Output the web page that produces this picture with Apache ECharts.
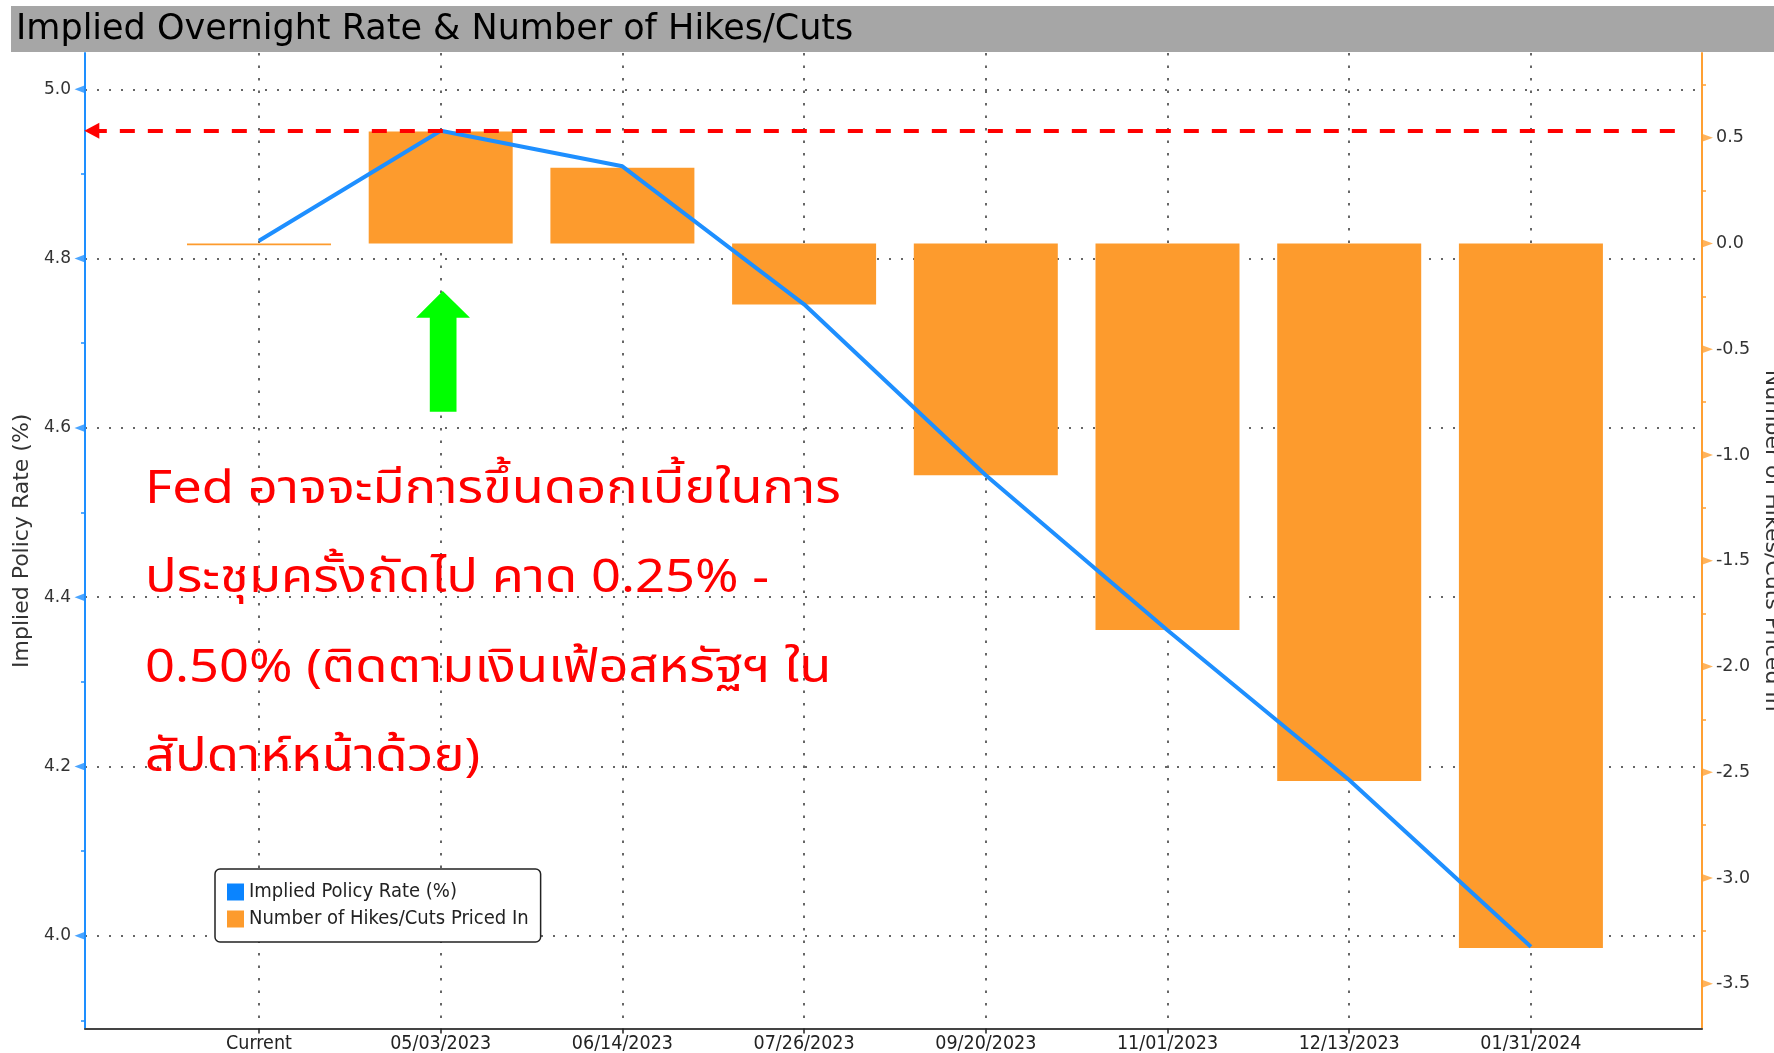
<!DOCTYPE html>
<html><head><meta charset="utf-8">
<script src="https://cdn.jsdelivr.net/npm/echarts@6/dist/echarts.min.js"></script>
<style>html,body{margin:0;padding:0;background:#fff}#c{width:1774px;height:1053px}</style>
</head><body><div id="c"></div>
<script>
// ---- data ----
const categories = ['Current','05/03/2023','06/14/2023','07/26/2023','09/20/2023','11/01/2023','12/13/2023','01/31/2024'];
const impliedRate = [4.821, 4.951, 4.909, 4.746, 4.544, 4.361, 4.184, 3.987];
const hikesCuts = [-0.008, 0.529, 0.358, -0.288, -1.096, -1.828, -2.541, -3.331];
const rateTicks = [4.0, 4.2, 4.4, 4.6, 4.8, 5.0];
const rateMinorTicks = [3.9, 4.1, 4.3, 4.5, 4.7, 4.9];
const hikeTicks = [0.5, 0, -0.5, -1.0, -1.5, -2.0, -2.5, -3.0, -3.5];
const hikeMinorTicks = [0.75, 0.25, -0.25, -0.75, -1.25, -1.75, -2.25, -2.75, -3.25];
const titleText = 'Implied Overnight Rate & Number of Hikes/Cuts';
const rateName = 'Implied Policy Rate (%)';
const hikeName = 'Number of Hikes/Cuts Priced In';
const noteLines = [
  'Fed อาจจะมีการขึ้นดอกเบี้ยในการ',
  'ประชุมครั้งถัดไป คาด 0.25% -',
  '0.50% (ติดตามเงินเฟ้อสหรัฐฯ ใน',
  'สัปดาห์หน้าด้วย)'
];

const catIdx = categories.map((c, i) => i);
const peakRate = Math.max(...impliedRate);
const RATE_MIN = 3.8904, RATE_MAX = 5.0429;
const HIKE_MIN = -3.7116, HIKE_MAX = 0.9007;
const X_MIN = -0.9576, X_MAX = 7.9416;

const BLUE = '#1E8FFF', ORANGE = '#FD9B2D', AX_ORANGE = '#FFA033';
const COND = "'DejaVu Sans Condensed','DejaVu Sans',sans-serif";
const SANS = "'DejaVu Sans',sans-serif";

const chart = echarts.init(document.getElementById('c'), null, {renderer: 'canvas'});
chart.setOption({
  backgroundColor: '#ffffff',
  animation: false,
  grid: {left: 85, right: 72, top: 53, bottom: 24.5, containLabel: false, outerBoundsMode: 'none'},
  legend: {
    data: [{name: rateName, icon: 'rect'}, {name: hikeName, icon: 'rect'}],
    orient: 'vertical', left: 215, top: 869,
    itemWidth: 17, itemHeight: 17, itemGap: 7,
    padding: [13, 12, 13, 12],
    borderColor: '#222', borderWidth: 1.5, borderRadius: 5, backgroundColor: '#fff',
    textStyle: {fontFamily: COND, fontSize: 20, color: '#222', lineHeight: 17},
    selectedMode: false
  },
  xAxis: {
    type: 'value', min: X_MIN, max: X_MAX,
    axisLine: {show: true, onZero: false, lineStyle: {color: '#444', width: 2}},
    axisTick: {show: true, customValues: catIdx, length: 5, lineStyle: {color: '#222', width: 1.5}},
    axisLabel: {customValues: catIdx, formatter: v => categories[Math.round(v)] || '',
      fontFamily: COND, fontSize: 19.5, color: '#222', margin: 5},
    splitLine: {show: true, lineStyle: {color: '#666', width: 2, type: [2.5, 10]}}
  },
  yAxis: [
    {
      type: 'value', position: 'left', min: RATE_MIN, max: RATE_MAX,
      name: rateName, nameLocation: 'middle', nameGap: 50, nameRotate: 90,
      nameTextStyle: {fontFamily: SANS, fontSize: 22, color: '#333'},
      axisLine: {show: true, onZero: false, lineStyle: {color: BLUE, width: 2}},
      axisTick: {show: false, customValues: rateTicks},
      axisLabel: {customValues: rateTicks, formatter: v => v.toFixed(1), fontFamily: SANS, fontSize: 17, color: '#333', margin: 14},
      splitLine: {show: true, lineStyle: {color: '#666', width: 2, type: [2, 10]}}
    },
    {
      type: 'value', position: 'left', min: RATE_MIN, max: RATE_MAX,
      axisLine: {show: false, onZero: false},
      axisTick: {show: true, customValues: rateMinorTicks, length: 4, lineStyle: {color: BLUE, width: 1.5}},
      axisLabel: {show: false}, splitLine: {show: false}
    },
    {
      type: 'value', position: 'right', min: HIKE_MIN, max: HIKE_MAX,
      name: hikeName, nameLocation: 'middle', nameGap: 55, nameRotate: -90,
      nameTextStyle: {fontFamily: SANS, fontSize: 22, color: '#333'},
      axisLine: {show: true, onZero: false, lineStyle: {color: AX_ORANGE, width: 2}},
      axisTick: {show: false, customValues: hikeTicks},
      axisLabel: {customValues: hikeTicks, formatter: v => v.toFixed(1), fontFamily: SANS, fontSize: 17.5, color: '#333', margin: 14},
      splitLine: {show: false}
    },
    {
      type: 'value', position: 'right', min: HIKE_MIN, max: HIKE_MAX,
      axisLine: {show: false, onZero: false},
      axisTick: {show: true, customValues: hikeMinorTicks, length: 4, lineStyle: {color: AX_ORANGE, width: 1.5}},
      axisLabel: {show: false}, splitLine: {show: false}
    }
  ],
  series: [
    {
      type: 'bar', name: hikeName, xAxisIndex: 0, yAxisIndex: 2,
      data: categories.map((c, i) => [i, hikesCuts[i]]),
      barWidth: 144, itemStyle: {color: ORANGE}, silent: true
    },
    {
      type: 'line', name: rateName, xAxisIndex: 0, yAxisIndex: 0,
      data: categories.map((c, i) => [i, impliedRate[i]]),
      symbol: 'none', showSymbol: false, silent: true,
      lineStyle: {color: BLUE, width: 4}, itemStyle: {color: '#0A84FF'},
      markLine: {
        silent: true, symbol: ['triangle', 'none'], symbolSize: [16, 15],
        label: {show: false}, emphasis: {disabled: true},
        lineStyle: {color: '#ff0000', width: 4, type: [15, 13]},
        data: [[{coord: [-0.92, peakRate]}, {coord: [7.832, peakRate]}]]
      },
      z: 3
    },
    {
      // triangular major tick markers of the left axis
      type: 'scatter', name: 'rateTickMarks', xAxisIndex: 0, yAxisIndex: 0,
      data: rateTicks.map(v => [X_MIN, v]),
      symbol: 'triangle', symbolSize: [8, 10.5], symbolRotate: 90, symbolOffset: [-5.25, 0],
      itemStyle: {color: BLUE}, clip: false, silent: true, z: 5
    },
    {
      // triangular major tick markers of the right axis
      type: 'scatter', name: 'hikeTickMarks', xAxisIndex: 0, yAxisIndex: 2,
      data: hikeTicks.map(v => [X_MAX, v]),
      symbol: 'triangle', symbolSize: [8, 11], symbolRotate: -90, symbolOffset: [5.5, 0],
      itemStyle: {color: AX_ORANGE}, clip: false, silent: true, z: 5
    }
  ],
  graphic: [
    {type: 'rect', left: 11, top: 6, shape: {width: 1763, height: 46}, style: {fill: '#a6a6a6'}, silent: true, z: 10},
    {type: 'text', x: 16, y: 30, style: {text: titleText, font: '35px ' + SANS, fill: '#000', verticalAlign: 'middle'}, silent: true, z: 11},
    {type: 'polygon', shape: {points: [[442.8, 291], [470, 317.7], [456.5, 317.7], [456.5, 411.7], [429.8, 411.7], [429.8, 317.7], [416, 317.7]]},
      style: {fill: '#00ff00'}, silent: true, z: 10},
    {type: 'text', x: 145, y: 449, scaleX: 1.14, style: {text: noteLines.join('\n'), font: "46px 'Noto Sans Thai','Noto Sans','Liberation Sans',sans-serif",
      lineHeight: 89.4, fill: '#ff0000', verticalAlign: 'top'}, silent: true, z: 10}
  ]
});
</script></body></html>
